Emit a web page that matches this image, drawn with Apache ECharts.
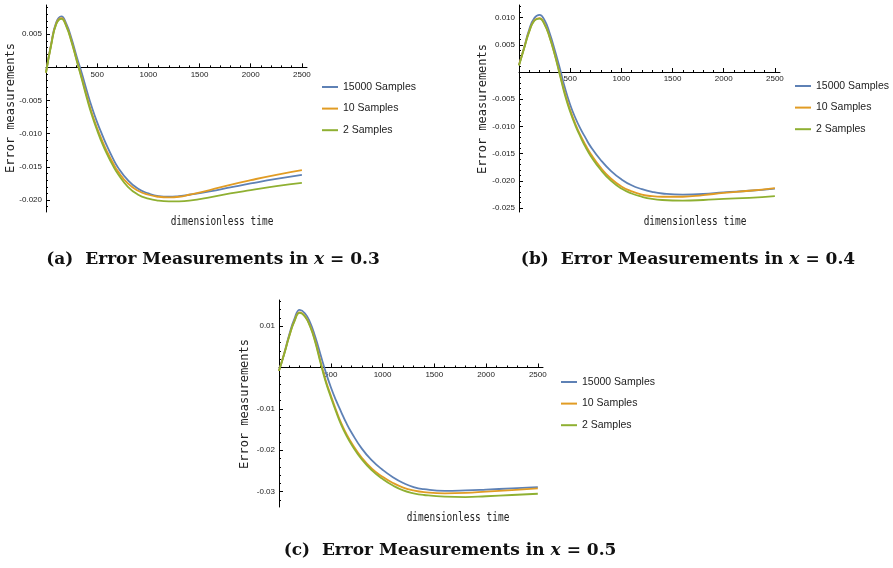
<!DOCTYPE html>
<html>
<head>
<meta charset="utf-8">
<script src="https://cdn.jsdelivr.net/npm/echarts@6/dist/echarts.min.js"></script>
<style>
  html, body { margin: 0; padding: 0; background: #fff; }
  #chart { width: 893px; height: 568px; }
</style>
</head>
<body>
<div id="chart"></div>
<script>
// ---- data -------------------------------------------------------------
const seriesNames = ['15000 Samples', '10 Samples', '2 Samples'];

// dimensionless time samples shared by every curve
const time = [0, 50, 100, 150, 200, 250, 300, 350, 400, 450, 500, 550, 600, 650, 700,
              800, 900, 1000, 1100, 1200, 1300, 1400, 1600, 1800, 2000, 2250, 2500];

// (a) x = 0.3
const errA15000 = [-0.0008, 0.0035, 0.0068, 0.0077, 0.0065, 0.0043, 0.0016, -0.0009, -0.0036, -0.0061, -0.0083, -0.0102, -0.0120, -0.0136, -0.0150,
                   -0.0170, -0.0183, -0.0190, -0.0194, -0.0195, -0.0194, -0.0192, -0.0187, -0.0181, -0.0175, -0.0168, -0.0162];
const errA10    = [-0.0008, 0.0034, 0.0066, 0.0074, 0.0062, 0.0039, 0.0011, -0.0016, -0.0044, -0.0070, -0.0092, -0.0111, -0.0128, -0.0143, -0.0156,
                   -0.0175, -0.0186, -0.0192, -0.0195, -0.0196, -0.0195, -0.0192, -0.0185, -0.0177, -0.0170, -0.0162, -0.0155];
const errA2     = [-0.0008, 0.0033, 0.0065, 0.0073, 0.0061, 0.0038, 0.0010, -0.0018, -0.0047, -0.0073, -0.0095, -0.0115, -0.0132, -0.0147, -0.0160,
                   -0.0180, -0.0192, -0.0198, -0.0201, -0.0202, -0.0202, -0.0201, -0.0196, -0.0190, -0.0185, -0.0179, -0.0174];

// (b) x = 0.4
const errB15000 = [0.0013, 0.0045, 0.0078, 0.0099, 0.0105, 0.0095, 0.0071, 0.0040, 0.0006, -0.0030, -0.0060, -0.0084, -0.0104, -0.0121, -0.0137,
                   -0.0162, -0.0182, -0.0197, -0.0208, -0.0215, -0.0220, -0.0223, -0.0225, -0.0224, -0.0221, -0.0218, -0.0214];
const errB10    = [0.0013, 0.0044, 0.0075, 0.0095, 0.0099, 0.0088, 0.0064, 0.0032, -0.0004, -0.0040, -0.0070, -0.0095, -0.0116, -0.0134, -0.0150,
                   -0.0176, -0.0196, -0.0210, -0.0219, -0.0225, -0.0228, -0.0229, -0.0229, -0.0226, -0.0222, -0.0218, -0.0213];
const errB2     = [0.0012, 0.0043, 0.0074, 0.0094, 0.0098, 0.0087, 0.0063, 0.0031, -0.0006, -0.0043, -0.0073, -0.0098, -0.0119, -0.0138, -0.0154,
                   -0.0180, -0.0200, -0.0214, -0.0223, -0.0229, -0.0233, -0.0235, -0.0236, -0.0235, -0.0233, -0.0231, -0.0228];

// (c) x = 0.5
const errC15000 = [-0.0008, 0.0034, 0.0080, 0.0118, 0.0139, 0.0131, 0.0109, 0.0074, 0.0032, -0.0010, -0.0047, -0.0079, -0.0107, -0.0134, -0.0157,
                   -0.0196, -0.0225, -0.0247, -0.0265, -0.0279, -0.0289, -0.0294, -0.0298, -0.0297, -0.0295, -0.0292, -0.0289];
const errC10    = [-0.0008, 0.0033, 0.0077, 0.0113, 0.0133, 0.0124, 0.0101, 0.0064, 0.0016, -0.0030, -0.0067, -0.0102, -0.0134, -0.0160, -0.0182,
                   -0.0218, -0.0245, -0.0264, -0.0279, -0.0290, -0.0297, -0.0301, -0.0304, -0.0303, -0.0300, -0.0296, -0.0292];
const errC2     = [-0.0008, 0.0032, 0.0076, 0.0112, 0.0132, 0.0123, 0.0099, 0.0061, 0.0012, -0.0034, -0.0071, -0.0106, -0.0138, -0.0164, -0.0186,
                   -0.0222, -0.0249, -0.0269, -0.0285, -0.0297, -0.0304, -0.0308, -0.0312, -0.0313, -0.0311, -0.0308, -0.0305];

// tick labels
const timeTicks = [500, 1000, 1500, 2000, 2500];
const yTicksA = [0.005, -0.005, -0.010, -0.015, -0.020];
const yTicksB = [0.010, 0.005, -0.005, -0.010, -0.015, -0.020, -0.025];
const yTicksC = [0.01, -0.01, -0.02, -0.03];

const captions = ['(a)', '(b)', '(c)'];
const positions = ['0.3', '0.4', '0.5'];

// ---- layout & style ---------------------------------------------------
const colors = ['#5E81B5', '#E19C24', '#8FB032'];
const sansFont = '"Liberation Sans", Arial, sans-serif';
const monoFont = '"DejaVu Sans Mono", "Liberation Mono", monospace';
const serifFont = '"DejaVu Serif", "Liberation Serif", serif';

function steps(from, to, step) {
  const out = [];
  const n = Math.round((to - from) / step);
  for (let k = 0; k <= n; k++) out.push(Math.round((from + k * step) * 1e6) / 1e6);
  return out;
}

const panels = [
  { left: 46,  top: 5,   width: 261, height: 207, yMin: -0.0218, yMax: 0.0094,
    yTicks: yTicksA, yMinor: steps(-0.021, 0.009, 0.001), dec: 3,
    data: [errA15000, errA10, errA2],
    legend: { left: 322, top: 80 },
    yName: [11, 108], xName: [222, 222], caption: [213, 260] },
  { left: 519, top: 5,   width: 261, height: 207, yMin: -0.0257, yMax: 0.0123,
    yTicks: yTicksB, yMinor: steps(-0.025, 0.012, 0.001), dec: 3,
    data: [errB15000, errB10, errB2],
    legend: { left: 795, top: 79 },
    yName: [483, 109], xName: [695, 222], caption: [688, 260] },
  { left: 279, top: 300, width: 264, height: 207, yMin: -0.0337, yMax: 0.0163,
    yTicks: yTicksC, yMinor: steps(-0.032, 0.016, 0.002), dec: 2,
    data: [errC15000, errC10, errC2],
    legend: { left: 561, top: 375 },
    yName: [245, 404], xName: [458, 518], caption: [450, 551] }
];

const xMinor = steps(100, 2500, 100);

const grid = [], xAxis = [], yAxis = [], series = [], legend = [], graphic = [];

panels.forEach(function (p, g) {
  grid.push({ left: p.left, top: p.top, width: p.width, height: p.height, containLabel: false });

  // the time axis is drawn through error = 0, so lift it from the grid's bottom edge
  const zeroFromBottom = p.height * (-p.yMin) / (p.yMax - p.yMin);
  const axisLineStyle = { color: '#000', width: 1 };

  // major time axis (line, ticks, labels)
  xAxis.push({
    type: 'value', gridIndex: g, min: 0, max: 2550, position: 'bottom', offset: -zeroFromBottom,
    axisLine: { show: true, onZero: false, lineStyle: axisLineStyle },
    axisTick: { show: true, inside: true, length: 4, customValues: timeTicks, lineStyle: axisLineStyle },
    axisLabel: { show: true, customValues: timeTicks, fontSize: 8, margin: 3, color: '#222', fontFamily: sansFont,
                 formatter: function (v) { return String(v); } },
    splitLine: { show: false }
  });
  // minor time ticks
  xAxis.push({
    type: 'value', gridIndex: g, min: 0, max: 2550, position: 'bottom', offset: -zeroFromBottom,
    axisLine: { show: false, onZero: false },
    axisTick: { show: true, inside: true, length: 2, customValues: xMinor, lineStyle: { color: '#000', width: 1 } },
    axisLabel: { show: false },
    splitLine: { show: false }
  });
  // major error axis
  yAxis.push({
    type: 'value', gridIndex: g, min: p.yMin, max: p.yMax, position: 'left',
    axisLine: { show: true, onZero: false, lineStyle: axisLineStyle },
    axisTick: { show: true, inside: true, length: 4, customValues: p.yTicks, lineStyle: axisLineStyle },
    axisLabel: { show: true, customValues: p.yTicks, fontSize: 8, margin: 4, color: '#222', fontFamily: sansFont,
                 formatter: function (v) { return v.toFixed(p.dec); } },
    splitLine: { show: false }
  });
  // minor error ticks
  yAxis.push({
    type: 'value', gridIndex: g, min: p.yMin, max: p.yMax, position: 'left',
    axisLine: { show: false, onZero: false },
    axisTick: { show: true, inside: true, length: 2, customValues: p.yMinor, lineStyle: { color: '#000', width: 1 } },
    axisLabel: { show: false },
    splitLine: { show: false }
  });

  p.data.forEach(function (vals, s) {
    series.push({
      name: seriesNames[s], type: 'line', xAxisIndex: 2 * g, yAxisIndex: 2 * g,
      data: time.map(function (t, i) { return [t, vals[i]]; }),
      smooth: true, showSymbol: false, symbol: 'none',
      lineStyle: { color: colors[s], width: 1.8 },
      itemStyle: { color: colors[s] },
      z: 2 + s
    });
  });

  legend.push({
    orient: 'vertical', left: p.legend.left, top: p.legend.top, padding: 0,
    data: seriesNames, icon: 'rect', itemWidth: 16, itemHeight: 2, itemGap: 7.6,
    selectedMode: false,
    textStyle: { fontSize: 10.5, lineHeight: 14, color: '#222', fontFamily: sansFont }
  });

  graphic.push({
    type: 'text', x: p.yName[0], y: p.yName[1], rotation: Math.PI / 2,
    style: { text: 'Error measurements', align: 'center', verticalAlign: 'middle',
             font: '12px ' + monoFont, fill: '#222' }
  });
  graphic.push({
    type: 'text', x: p.xName[0], y: p.xName[1], scaleX: 0.79,
    style: { text: 'dimensionless time', align: 'center', verticalAlign: 'middle',
             font: '12px ' + monoFont, fill: '#222' }
  });
  graphic.push({
    type: 'text', x: p.caption[0], y: p.caption[1],
    style: {
      text: '{n|' + captions[g] + '  Error Measurements in }{i|x}{n| = ' + positions[g] + '}',
      align: 'center', verticalAlign: 'middle',
      rich: {
        n: { font: 'bold 17px ' + serifFont, fill: '#111' },
        i: { font: 'italic bold 17px ' + serifFont, fill: '#111' }
      }
    }
  });
});

const chart = echarts.init(document.getElementById('chart'), null, { renderer: 'canvas' });
chart.setOption({
  animation: false,
  backgroundColor: '#fff',
  grid: grid, xAxis: xAxis, yAxis: yAxis, series: series, legend: legend, graphic: graphic
});
</script>
</body>
</html>
